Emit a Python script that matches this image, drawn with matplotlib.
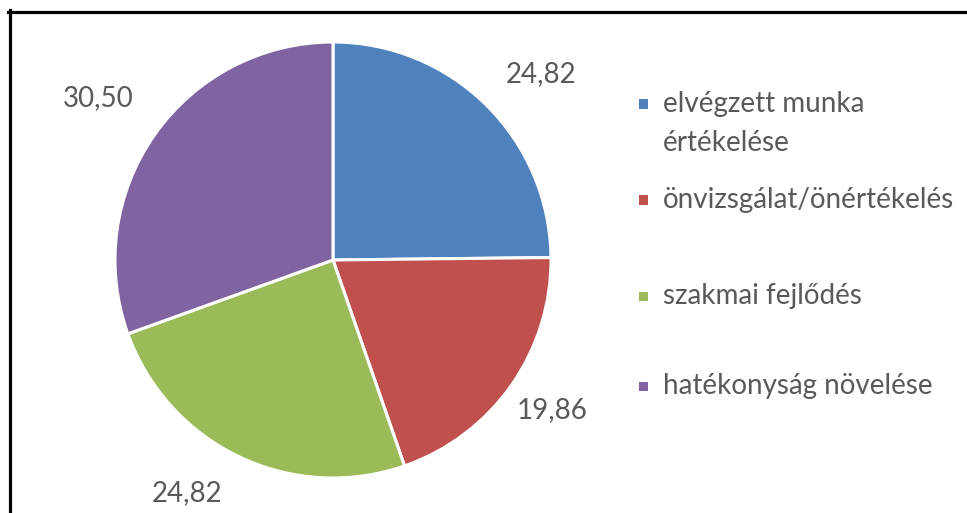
import matplotlib
matplotlib.use("Agg")
import matplotlib.pyplot as plt
from matplotlib.lines import Line2D
from matplotlib.patches import Rectangle
import numpy as np

categories = ["elvégzett munka", "önvizsgálat/önértékelés",
              "szakmai fejlődés", "hatékonyság növelése"]
category_line2 = ["értékelése", "", "", ""]
values = [24.82, 19.86, 24.82, 30.50]
value_labels = ["24,82", "19,86", "24,82", "30,50"]
colors = ["#4F81BD", "#C0504D", "#9BBB59", "#8064A2"]

W, H = 967, 513
fig = plt.figure(figsize=(W / 100, H / 100), dpi=100)
fig.patch.set_facecolor("white")
plt.rcParams['font.family'] = ['Lato', 'DejaVu Sans']

# pie axes: center (333,260), radius 218 px
cx, cy, r = 333, 260, 218
ax = fig.add_axes([(cx - r) / W, (H - cy - r) / H, 2 * r / W, 2 * r / H])
wedges, _ = ax.pie(values, colors=colors, startangle=90, counterclock=False,
                   radius=1.0, wedgeprops=dict(edgecolor="white", linewidth=2.2))
ax.set_xlim(-1, 1)
ax.set_ylim(-1, 1)
ax.set_aspect("auto")
ax.axis("off")

# data labels outside the wedges
label_dist = [1.28, 1.22, 1.26, 1.31]
label_shift = [-3.5, 0.7, -6.5, 0.5]  # degrees
for w, lab, d, s in zip(wedges, value_labels, label_dist, label_shift):
    ang = np.deg2rad((w.theta1 + w.theta2) / 2 + s)
    ax.text(d * np.cos(ang), d * np.sin(ang), lab, ha="center", va="center",
            fontsize=20, color="#595959", clip_on=False)

# legend (manual, Excel style)
leg_y = [104, 200, 296, 386]
for lab, lab2, col, y in zip(categories, category_line2, colors, leg_y):
    fig.patches.append(Rectangle((639 / W, (H - y - 4.5) / H), 9 / W, 9 / H,
                                 transform=fig.transFigure, facecolor=col,
                                 edgecolor="none"))
    fig.text(663 / W, (H - y) / H, lab, ha="left", va="center",
             fontsize=20, color="#595959", transform=fig.transFigure)
    if lab2:
        fig.text(663 / W, (H - y - 39) / H, lab2, ha="left", va="center",
                 fontsize=20, color="#595959", transform=fig.transFigure)

# frame lines (top and left)
fig.add_artist(Line2D([8 / W, 1.0], [(H - 11.5) / H] * 2, color="black",
                      linewidth=2.3, transform=fig.transFigure))
fig.add_artist(Line2D([9.5 / W] * 2, [0, (H - 10) / H], color="black",
                      linewidth=2.3, transform=fig.transFigure))

fig.savefig("out.png", dpi=100, facecolor="white")
